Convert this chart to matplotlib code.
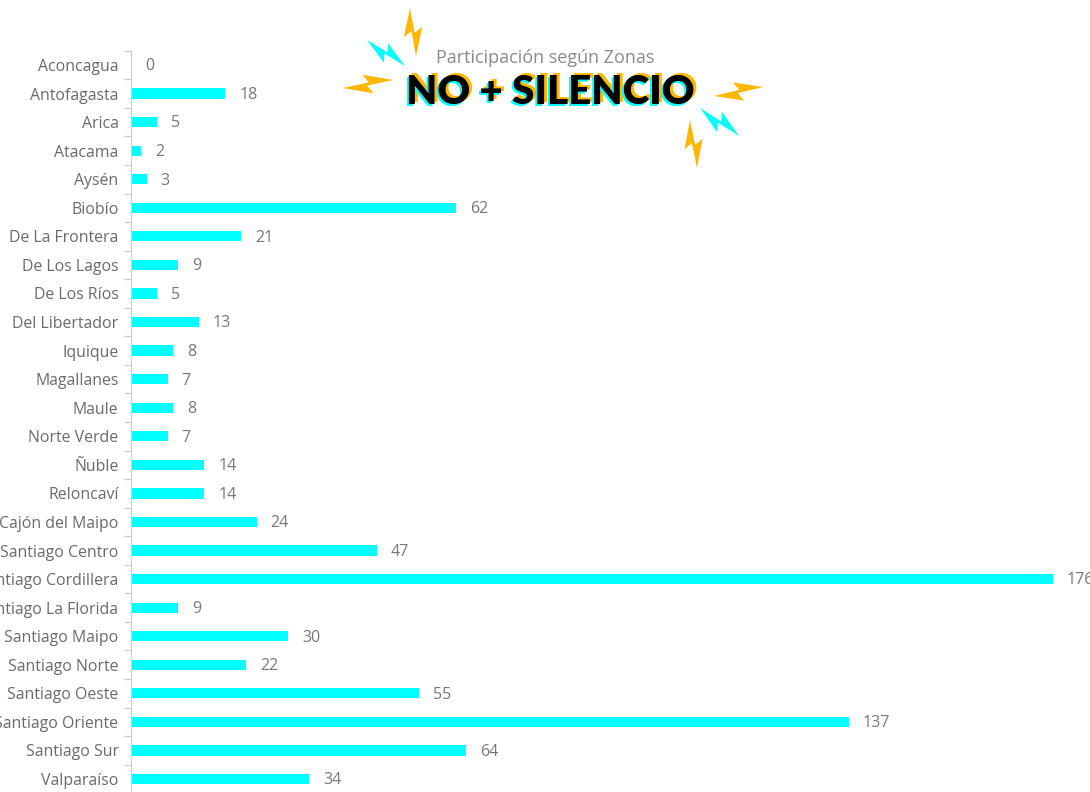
import numpy as np
from matplotlib import pyplot as plt
from matplotlib.patches import Polygon

zonas = ['Aconcagua', 'Antofagasta', 'Arica', 'Atacama', 'Aysén', 'Biobío',
         'De La Frontera', 'De Los Lagos', 'De Los Ríos', 'Del Libertador',
         'Iquique', 'Magallanes', 'Maule', 'Norte Verde', 'Ñuble', 'Reloncaví',
         'Cajón del Maipo', 'Santiago Centro', 'Santiago Cordillera',
         'Santiago La Florida', 'Santiago Maipo', 'Santiago Norte',
         'Santiago Oeste', 'Santiago Oriente', 'Santiago Sur', 'Valparaíso']
participantes = [0, 18, 5, 2, 3, 62, 21, 9, 5, 13, 8, 7, 8, 7, 14, 14,
                 24, 47, 176, 9, 30, 22, 55, 137, 64, 34]

subtitulo = 'Participación según Zonas'
titulo = 'NO + SILENCIO'

W, H = 1090, 792
BAR = '#00FFFF'
YEL = '#FFB703'
plt.rcParams['font.family'] = ['Open Sans', 'DejaVu Sans']

fig = plt.figure(figsize=(W / 100, H / 100), dpi=100)

# chart axes placed in pixel terms
left, right = 131, 1053
top, bottom = 50.7, 793.3
ax = fig.add_axes([left / W, 1 - bottom / H, (right - left) / W, (bottom - top) / H])

y = np.arange(len(zonas))
ax.barh(y, participantes, height=0.36, color=BAR, zorder=2)
ax.set_ylim(len(zonas) - 0.5, -0.5)
ax.set_xlim(0, max(participantes))

ax.set_yticks(y)
ax.set_yticklabels(zonas, fontsize=11.4, color='#6a6a6a')
ax.set_yticks(np.arange(len(zonas) + 1) - 0.5, minor=True)
ax.tick_params(axis='y', which='major', length=0, pad=9)
ax.tick_params(axis='y', which='minor', length=5, color='#cccccc', width=1)
ax.set_xticks([])
for s in ['top', 'right', 'bottom']:
    ax.spines[s].set_visible(False)
ax.spines['left'].set_color('#cccccc')

for yi, v in zip(y, participantes):
    ax.annotate(str(v), xy=(v, yi), xytext=(10, -1), textcoords='offset points',
                va='center', ha='left', fontsize=11.5, color='#777777',
                annotation_clip=False)

# overlay in pixel coordinates for title and decoration
ov = fig.add_axes([0, 0, 1, 1], zorder=5)
ov.set_xlim(0, W)
ov.set_ylim(H, 0)
ov.axis('off')
ov.patch.set_alpha(0)


def bolt(p0, p1, color, w=0.2):
    p0, p1 = np.array(p0, float), np.array(p1, float)
    d = p1 - p0
    n = np.array([-d[1], d[0]])
    shape = [(0, 0), (0.58, w), (0.48, 0.03), (1, 0), (0.42, -w), (0.52, -0.03)]
    pts = [p0 + a * d + b * n for a, b in shape]
    ov.add_patch(Polygon(pts, closed=True, color=color, lw=0))


bolt((410, 8), (416, 56), YEL)
bolt((367, 40), (405, 66), BAR)
bolt((343, 88), (393, 80), YEL)
bolt((714, 96), (763, 87), YEL)
bolt((700, 108), (739, 136), BAR)
bolt((690, 120), (697, 168), YEL)

ov.text(545, 58, subtitulo, ha='center', va='center', fontsize=13, color='#8a8a8a')
tx, ty = 550, 93
for dx, dy, c in [(3, -3, YEL), (-2, 2, BAR), (0, 0, 'black')]:
    ov.text(tx + dx, ty + dy, titulo, ha='center', va='center', fontsize=29,
            fontweight='heavy', color=c, family=['Lato', 'DejaVu Sans'])

fig.savefig('out.png', dpi=100)
